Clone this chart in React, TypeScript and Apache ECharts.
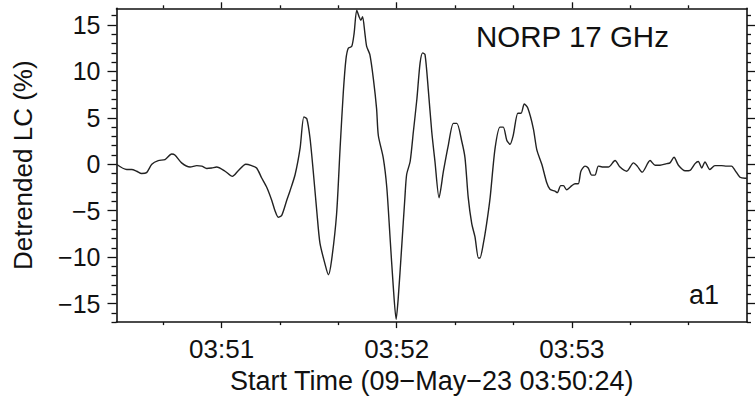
import React, { useEffect, useRef } from "react";
import * as echarts from "echarts";

// seconds since 03:50:00
const times = [
  24.0, 27.5, 29.2, 30.9, 32.6, 34.3, 36.1, 38.3, 40.6, 42.9, 44.0, 46.3, 49.2, 51.5, 53.2, 54.9, 56.6, 58.3,
  61.2, 63.7, 65.7, 68.3, 70.3, 72.0, 73.7, 75.5, 77.2, 78.3, 79.4, 80.6, 82.3, 83.4, 85.2,
  86.9, 88.2, 89.2, 90.3, 91.4, 92.6, 93.7, 95.4, 96.6, 97.7, 99.4, 100.6, 101.7, 102.6, 103.4, 104.6,
  105.4, 106.3, 107.1, 107.7, 108.3, 109.1, 109.7, 110.8, 112.0, 113.1, 113.7, 115.4, 116.6, 117.7,
  118.8, 119.8, 120.5, 121.7, 122.8, 123.4, 124.6, 125.7, 126.9, 128.0, 128.9, 129.7, 130.8, 132.0,
  133.1, 134.5, 136.0, 137.7, 139.4, 140.6, 142.3, 143.4, 144.5, 145.7, 146.8, 148.0, 148.5, 149.7,
  150.8, 152.0, 153.7, 155.4, 156.5, 157.7, 158.8, 159.9, 161.5, 162.6, 163.7, 164.9, 166.8, 168.0,
  169.7, 171.4, 172.5, 174.2, 175.0, 176.2, 177.1, 178.2, 180.0, 181.1, 182.2, 183.1, 184.5,
  185.6, 186.8, 187.9, 189.1, 190.8, 192.5, 194.8, 196.5, 198.8, 201.1, 202.4, 204.1, 206.8, 208.5,
  210.2, 212.5, 213.6, 215.0, 216.5, 218.8, 220.5, 222.2, 223.3, 224.5, 225.6, 227.3, 229.0, 231.3,
  233.0, 234.7, 235.9, 237.6, 239.3, 240.0,
];
const lc = [
  0, -0.57, -0.57, -0.75, -1.0, -0.9, 0, 0.4, 0.5, 1.1, 1.0, 0.15, -0.3, -0.15, -0.2, -0.45, -0.4, -0.3,
  -0.75, -1.3, -0.7, 0, -0.15, -0.4, -1.45, -2.5, -3.9, -5.0, -5.7, -5.5, -3.9, -2.9, -1.1,
  1.73, 5.1, 4.9, 2.8, -0.75, -5.0, -8.5, -10.7, -11.9, -10.3, -5.35, 1.73, 7.75, 11.3, 12.5, 12.7,
  14.1, 16.6, 15.9, 15.5, 15.9, 14.1, 12.7, 11.8, 9.2, 6.0, 3.1, 0.67, -2.5, -7.8,
  -13.1, -16.7, -14.5, -8.9, -3.6, -1.1, 0.3, 3.5, 7.0, 10.9, 12.0, 11.8, 8.1, 3.5,
  0.3, -3.6, -0.75, 2.1, 4.4, 4.4, 2.45, 0.67, -3.6, -6.4, -7.8, -10.1, -10.1, -8.5,
  -6.4, -3.6, 1.73, 4.0, 4.0, 2.6, 2.15, 3.1, 5.5, 5.5, 6.5, 6.05, 3.85, 1.55,
  0, -2.0, -2.7, -2.9, -3.05, -2.3, -2.3, -2.75, -2.3, -2.1, -2.1, -0.75, -0.2,
  -0.4, -1.17, -1.17, -0.2, -0.3, -0.3, 0.4, -0.3, -0.75, 0.15, -0.2, -0.85, 0.4, -0.1,
  -0.1, 0.07, 0.15, 0.75, -0.1, -0.7, -0.65, 0.07, 0.3, -0.4, 0.25, -0.57, -0.15, -0.15,
  -0.2, -0.2, -0.65, -1.4, -1.5, -1.5,
];

const xMajorTicks = [60, 120, 180];
const xTickLabels = ["03:51", "03:52", "03:53"];
const xMinorTicks = [40, 80, 100, 140, 160, 200, 220];
const yMajorTicks = [-15, -10, -5, 0, 5, 10, 15];
const yMinorTicks = [
  -17, -16, -14, -13, -12, -11, -9, -8, -7, -6, -4, -3, -2, -1, 1, 2, 3, 4, 6, 7, 8, 9, 11, 12, 13, 14, 16,
];

const FONT = "'Liberation Sans', Arial, Helvetica, sans-serif";
const INK = "#111";

export default function App() {
  const ref = useRef<HTMLDivElement>(null);
  useEffect(() => {
    if (!ref.current) return;
    const chart = echarts.init(ref.current, null, { renderer: "svg" });
    const X_MIN = 24, X_MAX = 240, Y_MIN = -17, Y_MAX = 16.8;
    const axisLine = { show: true, onZero: false, lineStyle: { color: INK, width: 1.6 } };
    const noLine = { show: false, onZero: false };
    const xBase = (position: string, ticks: number[], len: number, line: boolean) => ({
      type: "value",
      position,
      min: X_MIN,
      max: X_MAX,
      axisLine: line ? axisLine : noLine,
      axisTick: { show: true, customValues: ticks, length: len, inside: false, lineStyle: { color: INK, width: 1.3 } },
      axisLabel: { show: false },
      splitLine: { show: false },
    });
    const yBase = (position: string, ticks: number[], len: number, line: boolean) => ({
      type: "value",
      position,
      min: Y_MIN,
      max: Y_MAX,
      axisLine: line ? axisLine : noLine,
      axisTick: { show: true, customValues: ticks, length: len, inside: false, lineStyle: { color: INK, width: 1.3 } },
      axisLabel: { show: false },
      splitLine: { show: false },
    });
    const xMain: any = xBase("bottom", xMajorTicks, 6, true);
    xMain.axisLabel = {
      show: true,
      customValues: xMajorTicks,
      formatter: (v: number) => xTickLabels[xMajorTicks.indexOf(Math.round(v))] ?? "",
      color: INK,
      fontSize: 26,
      fontFamily: FONT,
      margin: 14,
    };
    xMain.name = "Start Time (09\u2212May\u221223 03:50:24)";
    xMain.nameLocation = "middle";
    xMain.nameGap = 44;
    xMain.nameTextStyle = { color: INK, fontSize: 27, fontFamily: FONT };

    const yMain: any = yBase("left", yMajorTicks, 9, true);
    yMain.axisLabel = {
      show: true,
      customValues: yMajorTicks,
      formatter: (v: number) => (v < 0 ? "\u2212" + Math.abs(v) : String(v)),
      color: INK,
      fontSize: 25,
      fontFamily: FONT,
      margin: 16,
    };
    yMain.name = "Detrended LC (%)";
    yMain.nameLocation = "middle";
    yMain.nameGap = 81;
    yMain.nameTextStyle = { color: INK, fontSize: 26, fontFamily: FONT };

    chart.setOption({
      animation: false,
      backgroundColor: "#fff",
      grid: { left: 116.5, right: 9, top: 8.3, bottom: 73, containLabel: false },
      xAxis: [
        xMain,
        xBase("bottom", xMinorTicks, 3, false),
        xBase("top", xMajorTicks, 6, true),
        xBase("top", xMinorTicks, 3, false),
      ],
      yAxis: [
        yMain,
        yBase("left", yMinorTicks, 5, false),
        yBase("right", yMajorTicks, 8, true),
        yBase("right", yMinorTicks, 4, false),
      ],
      series: [
        {
          type: "line",
          xAxisIndex: 0,
          yAxisIndex: 0,
          data: times.map((t, i) => [t, lc[i]]),
          showSymbol: false,
          symbol: "none",
          smooth: 0.25,
          lineStyle: { color: "#222", width: 1.4 },
        },
      ],
      graphic: [
        {
          type: "text",
          left: 476,
          top: 21,
          style: { text: "NORP 17 GHz", fill: INK, fontSize: 29.5, fontFamily: FONT },
        },
        {
          type: "text",
          left: 689,
          top: 281,
          style: { text: "a1", fill: INK, fontSize: 27, fontFamily: FONT },
        },
      ],
    });
    return () => chart.dispose();
  }, []);
  return <div ref={ref} style={{ position: "absolute", left: 0, top: 0, width: 756, height: 399 }} />;
}
